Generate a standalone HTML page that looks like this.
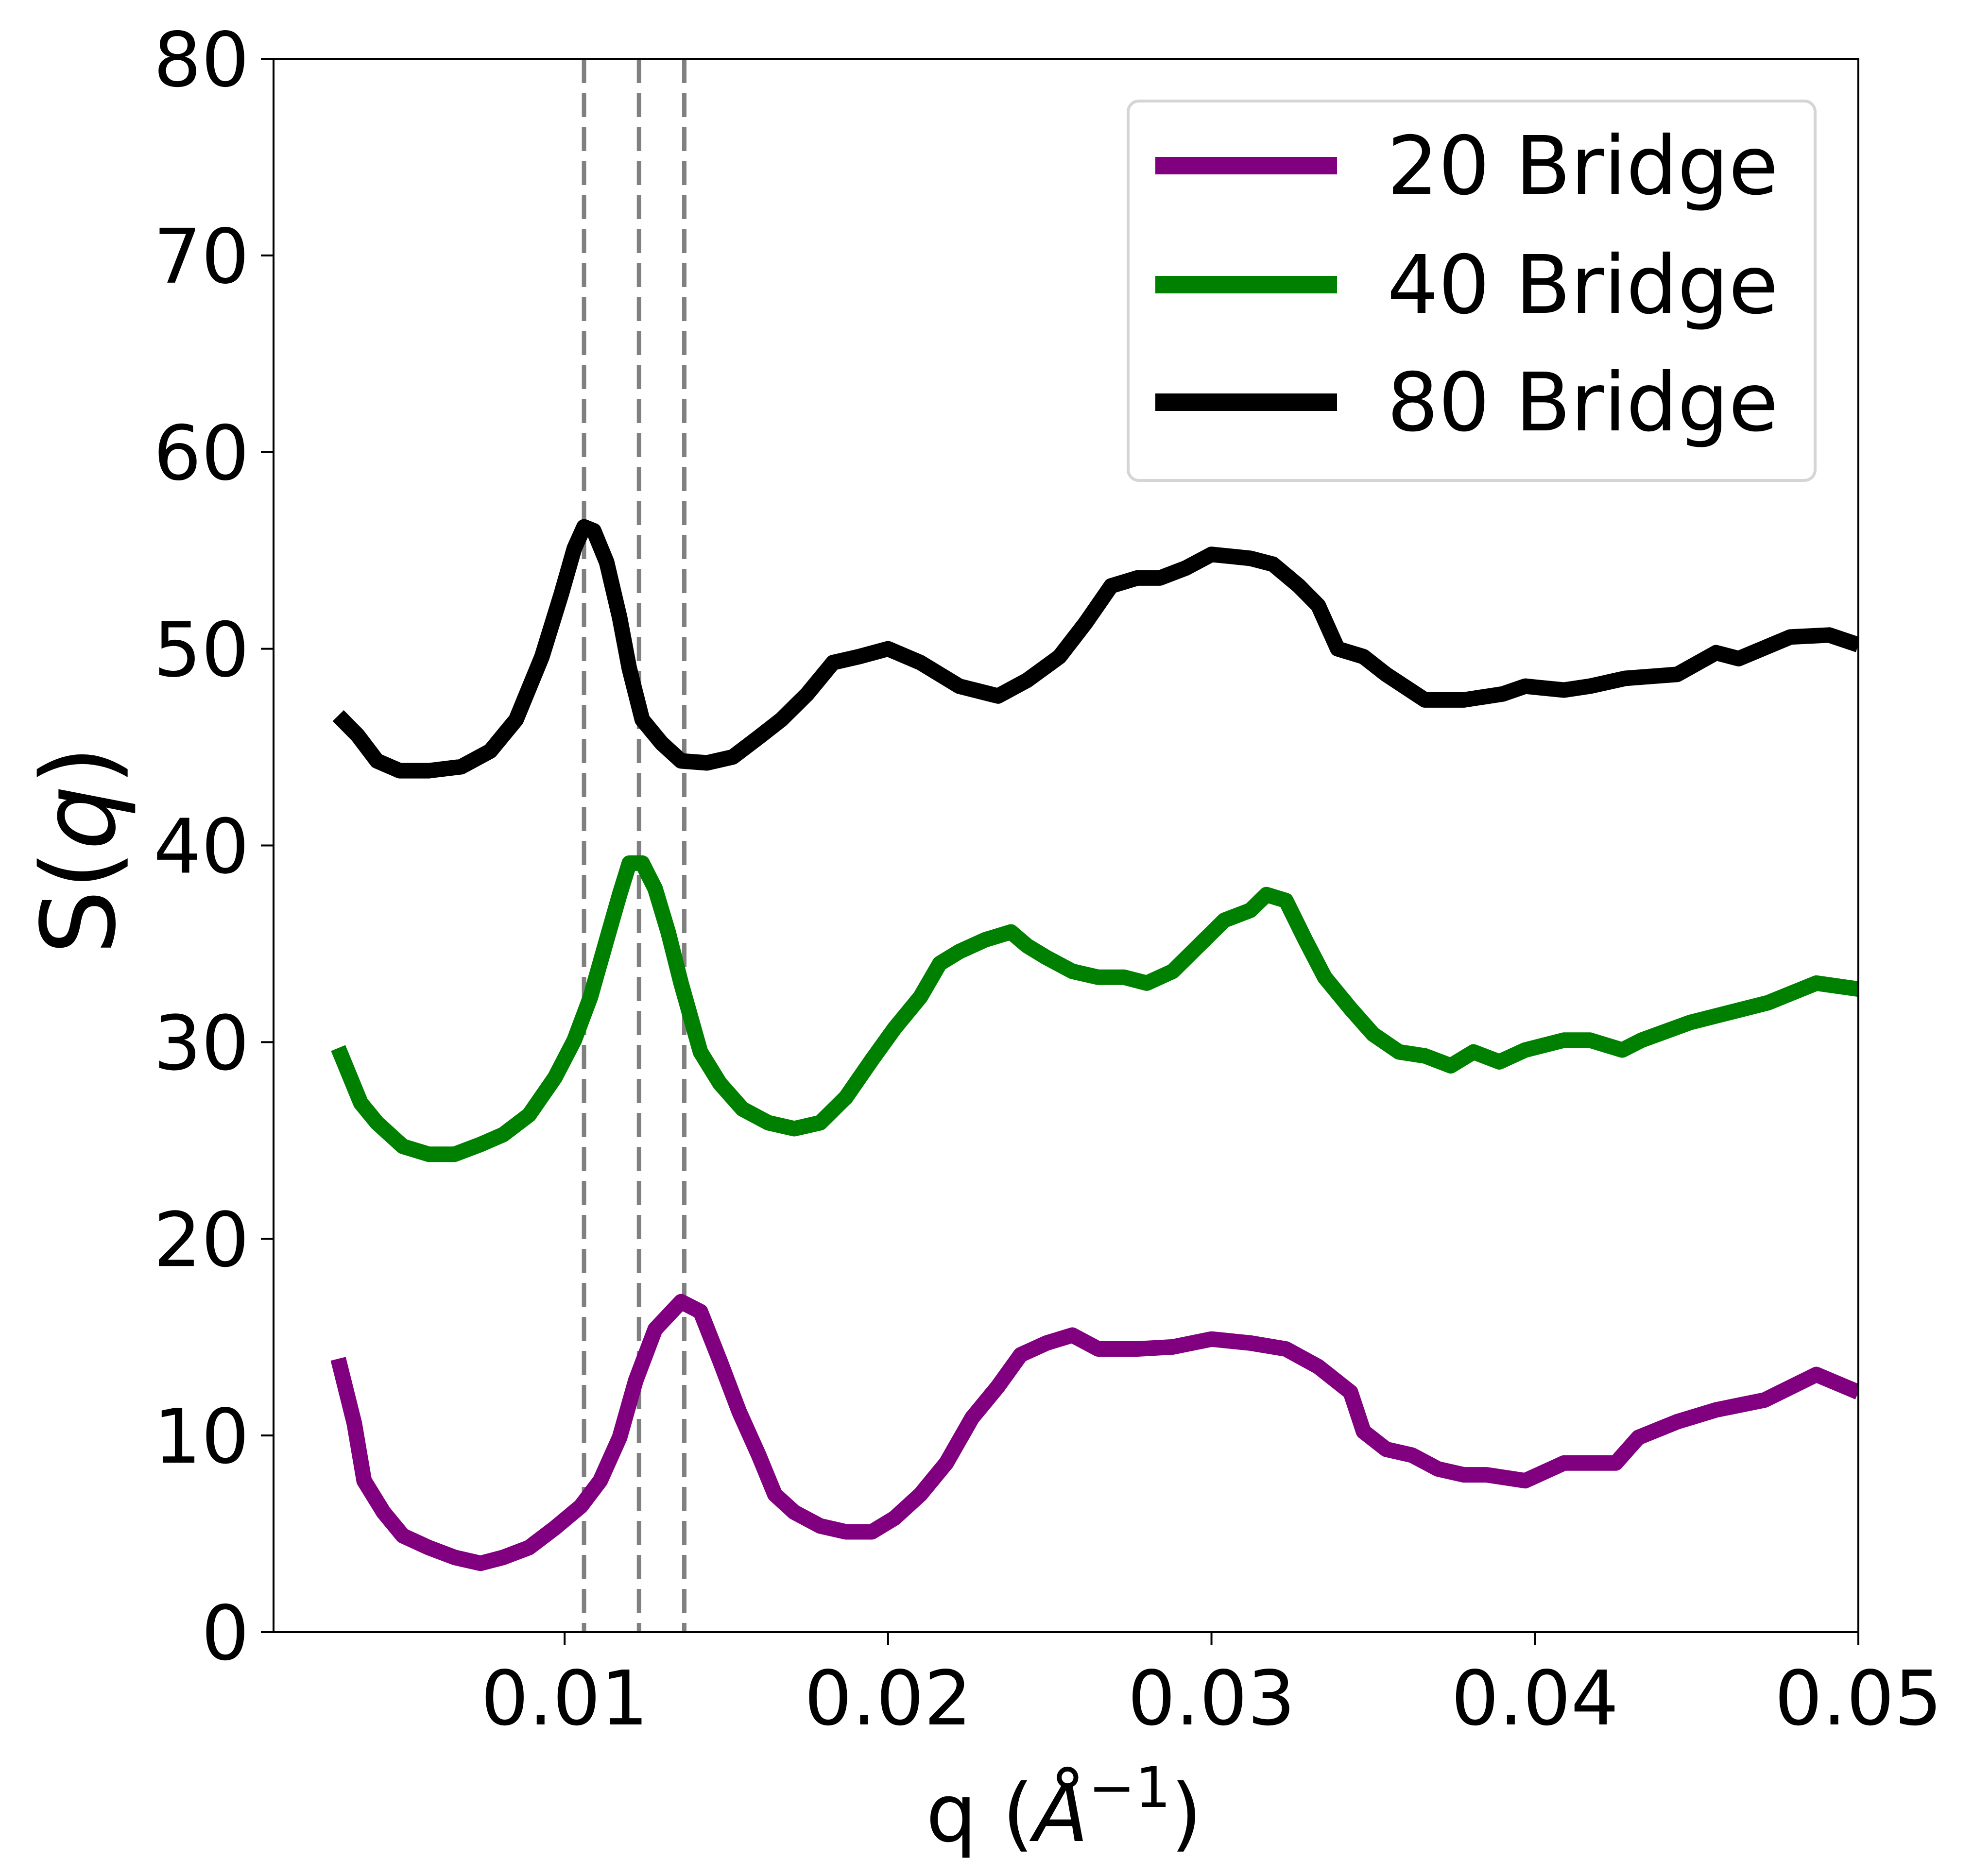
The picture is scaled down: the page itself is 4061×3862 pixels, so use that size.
<!DOCTYPE html>
<html><head><meta charset="utf-8"><style>
html,body{margin:0;padding:0;background:#fff}
svg{display:block}
text{font-family:"DejaVu Sans","Liberation Sans",sans-serif;fill:#000}
</style></head><body>
<svg id="chart" xmlns="http://www.w3.org/2000/svg" width="4061" height="3862" viewBox="0 0 4061 3862">
<rect width="4061" height="3862" fill="#fff"/>
<g id="plot"></g>
</svg>
<script>
const q80=[0.003,0.0036,0.0042,0.0049,0.0058,0.0068,0.0077,0.0085,0.0093,0.0099,0.0103,0.0106,0.0109,0.0113,0.0117,0.0120,0.0124,0.0130,0.0136,0.0144,0.0152,0.016,0.0167,0.0175,0.0183,0.0191,0.0200,0.021,0.0222,0.0234,0.0243,0.0253,0.0261,0.0269,0.0277,0.0284,0.0292,0.03,0.0312,0.0319,0.0327,0.0333,0.0339,0.0347,0.0354,0.0366,0.0378,0.039,0.0397,0.0409,0.0417,0.0428,0.0444,0.0456,0.0463,0.0479,0.0491,0.05];
const s80=[46.6,45.6,44.3,43.8,43.8,44.0,44.8,46.4,49.6,52.8,55.1,56.2,56.0,54.4,51.6,49.0,46.4,45.2,44.3,44.2,44.5,45.5,46.4,47.7,49.3,49.6,50.0,49.3,48.1,47.6,48.4,49.6,51.3,53.2,53.6,53.6,54.1,54.8,54.6,54.3,53.2,52.2,50.0,49.6,48.7,47.4,47.4,47.7,48.1,47.9,48.1,48.5,48.7,49.8,49.5,50.6,50.7,50.2];
const q40=[0.003,0.0037,0.0042,0.005,0.0058,0.0066,0.0074,0.0081,0.0089,0.0097,0.0103,0.0108,0.0113,0.0117,0.012,0.0124,0.0128,0.0132,0.0136,0.0142,0.0148,0.0155,0.0163,0.0171,0.0179,0.0187,0.0195,0.0202,0.021,0.0216,0.0222,0.023,0.0238,0.0243,0.0249,0.0257,0.0265,0.0273,0.028,0.0288,0.0296,0.0304,0.0312,0.0317,0.0323,0.0329,0.0335,0.0343,0.035,0.0358,0.0366,0.0374,0.0381,0.0389,0.0397,0.0409,0.0417,0.0427,0.0433,0.0448,0.046,0.0472,0.0487,0.05];
const s40=[29.7,26.9,25.9,24.7,24.3,24.3,24.8,25.3,26.3,28.2,30.1,32.3,35.2,37.5,39.1,39.1,37.8,35.6,33.0,29.5,27.9,26.6,25.9,25.6,25.9,27.2,29.1,30.7,32.3,34.0,34.6,35.2,35.6,34.9,34.3,33.6,33.3,33.3,33.0,33.6,34.9,36.2,36.7,37.5,37.2,35.2,33.3,31.7,30.4,29.5,29.3,28.8,29.5,29.0,29.6,30.1,30.1,29.6,30.1,31.0,31.5,32.0,33.0,32.7];
const q20=[0.003,0.0035,0.0038,0.0044,0.005,0.0058,0.0066,0.0074,0.0081,0.0089,0.0097,0.0105,0.0111,0.0117,0.0122,0.0128,0.0136,0.0142,0.0148,0.0154,0.016,0.0165,0.0171,0.0179,0.0187,0.0195,0.0202,0.021,0.0218,0.0226,0.0234,0.0241,0.0249,0.0257,0.0265,0.0277,0.0288,0.03,0.0312,0.0323,0.0333,0.0343,0.0347,0.0354,0.0362,0.037,0.0378,0.0385,0.0397,0.0409,0.0425,0.0432,0.0444,0.0456,0.0471,0.0487,0.05];
const s20=[13.9,10.6,7.7,6.1,4.9,4.3,3.8,3.5,3.8,4.3,5.3,6.4,7.7,9.9,12.8,15.4,16.8,16.3,13.8,11.2,9.0,7.0,6.1,5.4,5.1,5.1,5.8,7.0,8.6,10.9,12.5,14.1,14.7,15.1,14.4,14.4,14.5,14.9,14.7,14.4,13.5,12.2,10.2,9.3,9.0,8.3,8.0,8.0,7.7,8.6,8.6,9.9,10.7,11.3,11.8,13.1,12.2];
const peakLines=[0.0106,0.0123,0.0137];
const xTicks=[0.01,0.02,0.03,0.04,0.05];
const xTickLabels=["0.01","0.02","0.03","0.04","0.05"];
const yTicks=[0,10,20,30,40,50,60,70,80];
const yTickLabels=["0","10","20","30","40","50","60","70","80"];
const seriesNames=["20 Bridge","40 Bridge","80 Bridge"];

const NS="http://www.w3.org/2000/svg";
const L=563,R=3825,T=121,B=3360,X0=0.001,X1=0.05,Y0=0,Y1=80;
const xs=v=>L+(v-X0)/(X1-X0)*(R-L);
const ys=v=>B-(v-Y0)/(Y1-Y0)*(B-T);
const g=document.getElementById('plot');
function mk(tag,attrs,parent){const e=document.createElementNS(NS,tag);for(const k in attrs)e.setAttribute(k,attrs[k]);(parent||g).appendChild(e);return e;}

const clip=mk('clipPath',{id:'clip'});mk('rect',{x:L,y:T,width:R-L,height:B-T},clip);

peakLines.forEach(v=>{
  const l=mk('line',{x1:xs(v),x2:xs(v),y1:T,y2:B,stroke:'#808080','stroke-width':9,'stroke-dasharray':'50,20'});
  
  
});

function series(qa,sa,color,name){
  const d=qa.map((q,i)=>(i?'L':'M')+xs(q).toFixed(1)+' '+ys(sa[i]).toFixed(1)).join(' ');
  const p=mk('path',{d:d,fill:'none',stroke:color,'stroke-width':32,'stroke-linejoin':'round','clip-path':'url(#clip)'});
  
  
}
series(q20,s20,'#800080','series-20-bridge');
series(q40,s40,'#008000','series-40-bridge');
series(q80,s80,'#000000','series-80-bridge');

const frame=mk('rect',{x:L,y:T,width:R-L,height:B-T,fill:'none',stroke:'#000','stroke-width':4});



xTicks.forEach((v,i)=>{
  mk('line',{x1:xs(v),x2:xs(v),y1:B,y2:B+26,stroke:'#000','stroke-width':4});
  const t=mk('text',{x:xs(v),y:B+190,'font-size':155,'text-anchor':'middle'});
  t.textContent=xTickLabels[i];
  
  
});
yTicks.forEach((v,i)=>{
  mk('line',{x1:L-26,x2:L,y1:ys(v),y2:ys(v),stroke:'#000','stroke-width':4});
  const t=mk('text',{x:L-50,y:ys(v)+56,'font-size':155,'text-anchor':'end'});
  t.textContent=yTickLabels[i];
  
  
});

const lg=mk('g',{});


mk('rect',{x:2322,y:208,width:1414,height:781,rx:22,fill:'#fff',stroke:'#d5d5d5','stroke-width':6},lg);
const lcolors=['#800080','#008000','#000000'];
const lys=[341,586,828];
seriesNames.forEach((n,i)=>{
  mk('line',{x1:2378,x2:2752,y1:lys[i],y2:lys[i],stroke:lcolors[i],'stroke-width':36},lg);
  const t=mk('text',{x:2855,y:lys[i]+58,'font-size':166},lg);
  t.textContent=n;
  
  
});
</script>
<svg style="position:absolute;left:0;top:0" width="4061" height="3862">
<text x="2190" y="3790" font-size="165" text-anchor="middle" style="font-family:'DejaVu Sans',sans-serif">q (<tspan font-style="italic">Å</tspan><tspan font-size="115" dy="-70">−1</tspan><tspan dy="70">)</tspan></text>
<text transform="translate(235,1750) rotate(-90)" font-size="210" text-anchor="middle" style="font-family:'DejaVu Sans',sans-serif">S(<tspan font-style="italic">q</tspan>)</text>
</svg>
</body></html>
